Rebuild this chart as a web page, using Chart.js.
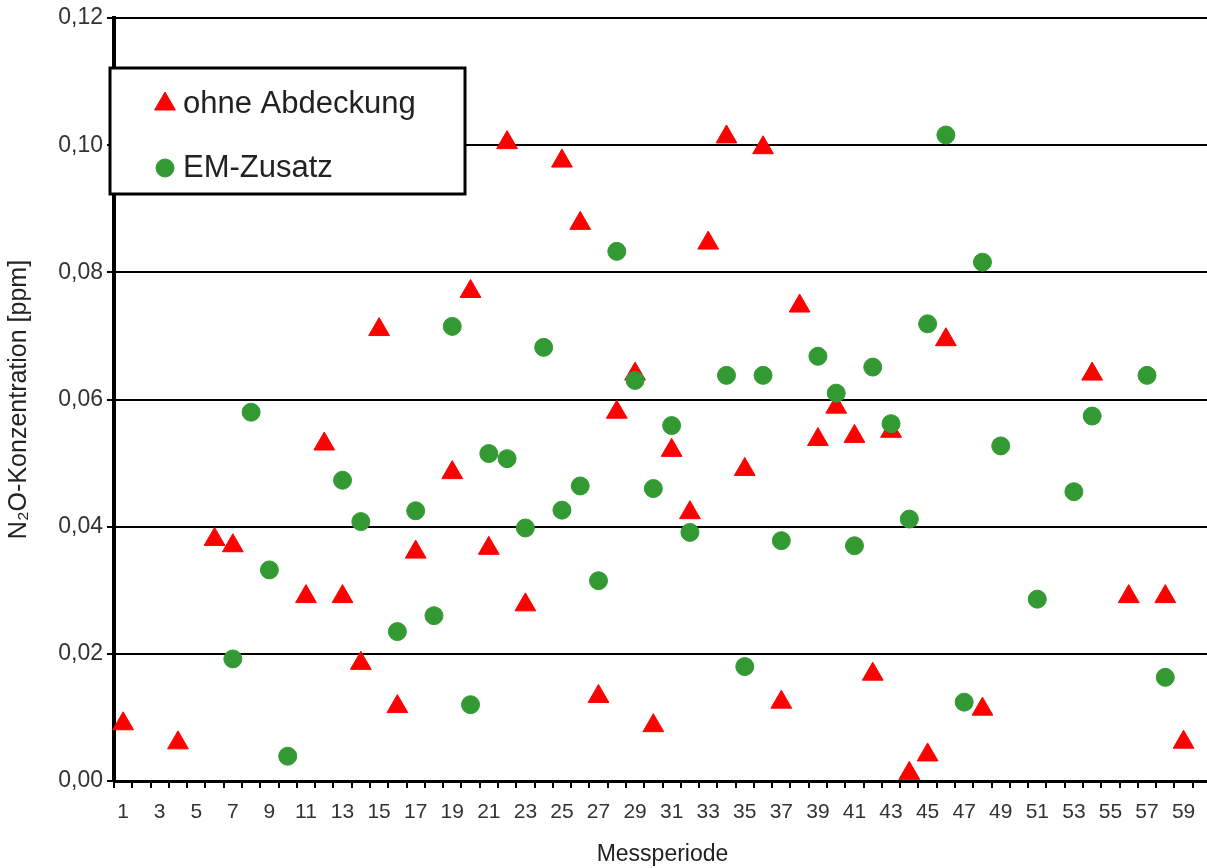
<!DOCTYPE html>
<html lang="de">
<head>
<meta charset="UTF-8">
<title>N2O-Konzentration</title>
<script src="https://cdn.jsdelivr.net/npm/chart.js"></script>
<style>
  html, body { margin: 0; padding: 0; background: #fff; overflow: hidden; }
</style>
</head>
<body>
<canvas id="chart" width="1211" height="868"></canvas>
<script>
// Messperioden 1..60 (Achse)
const perioden = [
  "1", "2", "3", "4", "5", "6", "7", "8", "9", "10",
  "11", "12", "13", "14", "15", "16", "17", "18", "19", "20",
  "21", "22", "23", "24", "25", "26", "27", "28", "29", "30",
  "31", "32", "33", "34", "35", "36", "37", "38", "39", "40",
  "41", "42", "43", "44", "45", "46", "47", "48", "49", "50",
  "51", "52", "53", "54", "55", "56", "57", "58", "59", "60"
];

// N2O-Konzentration [ppm]
const ohneAbdeckung = [
  0.009, null, null, 0.006, null, 0.038, 0.037, null, null, null,
  0.029, 0.053, 0.029, 0.0185, 0.071, 0.0117, 0.036, null, 0.0485, 0.077,
  0.0366, 0.1004, 0.0277, null, 0.0975, 0.0877, 0.0133, 0.058, 0.064, 0.0087,
  0.052, 0.0422, 0.0846, 0.1013, 0.049, 0.0996, 0.0124, 0.0747, 0.0537, 0.0588,
  0.0542, 0.0168, 0.055, 0.0012, 0.0041, 0.0694, null, 0.0113, null, null,
  null, null, null, 0.064, null, 0.029, null, 0.029, 0.0061, null
];

const emZusatz = [
  null, null, null, null, null, null, 0.0192, 0.058, 0.0332, 0.0039,
  null, null, 0.0473, 0.0408, null, 0.0235, 0.0425, 0.026, 0.0715, 0.012,
  0.0515, 0.0507, 0.0398, 0.0682, 0.0426, 0.0464, 0.0315, 0.0833, 0.063, 0.046,
  0.0559, 0.0391, null, 0.0638, 0.018, 0.0638, 0.0378, null, 0.0668, 0.061,
  0.037, 0.0651, 0.0562, 0.0412, 0.0719, 0.1016, 0.0124, 0.0816, 0.0527, null,
  0.0286, null, 0.0455, 0.0574, null, null, 0.0638, 0.0163, null, null
];

const yTicks = [0, 0.02, 0.04, 0.06, 0.08, 0.10, 0.12];

const FONT = '"Liberation Sans", Arial, sans-serif';

// Legende als Kasten oben links, wie im Original
const legendBox = {
  id: 'legendBox',
  afterDraw(chart) {
    const ctx = chart.ctx;
    ctx.save();
    ctx.fillStyle = '#fff';
    ctx.fillRect(110, 68, 355, 126);
    ctx.lineWidth = 3;
    ctx.strokeStyle = '#000';
    ctx.strokeRect(110, 68, 355, 126);
    chart.data.datasets.forEach((ds, i) => {
      const y = 104 + i * 64;
      ctx.fillStyle = ds.pointBackgroundColor;
      ctx.strokeStyle = ds.pointBorderColor;
      ctx.lineWidth = 1;
      Chart.helpers.drawPoint(ctx, {
        pointStyle: ds.pointStyle,
        radius: ds.pointStyle === 'triangle' ? 12 : 9,
        rotation: 0,
        borderWidth: 1
      }, 165, y);
      ctx.fillStyle = '#222';
      ctx.font = '31px ' + FONT;
      ctx.textBaseline = 'middle';
      ctx.textAlign = 'left';
      ctx.fillText(ds.label, 183, y);
    });
    ctx.restore();
  }
};

new Chart(document.getElementById('chart').getContext('2d'), {
  type: 'line',
  data: {
    labels: perioden,
    datasets: [
      {
        label: 'ohne Abdeckung',
        data: ohneAbdeckung,
        showLine: false,
        pointStyle: 'triangle',
        pointRadius: 12,
        pointBackgroundColor: '#ff0000',
        pointBorderColor: '#ff0000',
        pointBorderWidth: 1,
        order: 2
      },
      {
        label: 'EM-Zusatz',
        data: emZusatz,
        showLine: false,
        pointStyle: 'circle',
        pointRadius: 9,
        pointBackgroundColor: '#339933',
        pointBorderColor: '#339933',
        pointBorderWidth: 1,
        order: 1
      }
    ]
  },
  options: {
    responsive: false,
    animation: false,
    layout: { autoPadding: false, padding: { top: 18, left: 0, right: 0, bottom: 0 } },
    plugins: {
      legend: { display: false },
      tooltip: { enabled: false }
    },
    scales: {
      x: {
        type: 'category',
        offset: true,
        afterFit: (s) => {
          s.height = 87;
          s.paddingLeft = 0;
          s.paddingRight = 0;
        },
        grid: {
          offset: true,
          drawOnChartArea: false,
          drawTicks: true,
          tickLength: 7,
          color: '#000',
          lineWidth: 2
        },
        border: { color: '#000', width: 3 },
        ticks: {
          autoSkip: false,
          maxRotation: 0,
          padding: 12,
          color: '#333',
          font: { family: FONT, size: 21 },
          callback: (v, i) => (i % 2 === 0 ? perioden[i] : '')
        },
        title: {
          display: true,
          text: 'Messperiode',
          color: '#222',
          font: { family: FONT, size: 23 },
          padding: { top: 4, bottom: 0 }
        }
      },
      y: {
        min: 0,
        max: 0.12,
        afterFit: (s) => { s.width = 114; },
        afterBuildTicks: (s) => { s.ticks = yTicks.map(v => ({ value: v })); },
        grid: {
          color: '#000',
          lineWidth: 2,
          tickLength: 7
        },
        border: { color: '#000', width: 4 },
        ticks: {
          padding: 4,
          color: '#333',
          font: { family: FONT, size: 23 },
          callback: (v) => v.toFixed(2).replace('.', ',')
        },
        title: {
          display: true,
          text: 'N₂O-Konzentration [ppm]',
          color: '#222',
          font: { family: FONT, size: 25 },
          padding: { top: 4, bottom: 0 }
        }
      }
    }
  },
  plugins: [legendBox]
});
</script>
</body>
</html>
